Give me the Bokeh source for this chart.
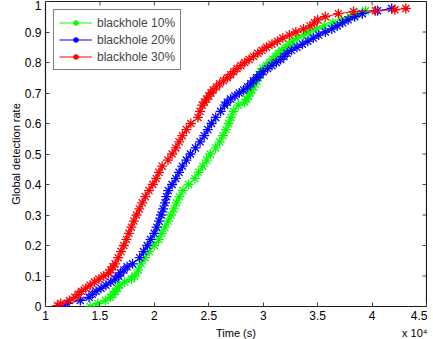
import math
from bokeh.plotting import figure
from bokeh.models import LinearAxis, FixedTicker, Legend, LegendItem, Range1d
from bokeh.embed import file_html
from bokeh.resources import INLINE

# ---- data (time in units of 1e4 s, global detection rate) ----
series_names = ["blackhole 10%", "blackhole 20%", "blackhole 30%"]
series_colors = ["#00ff00", "#0000ff", "#ff0000"]

t_10 = [1.41, 1.48, 1.55, 1.595, 1.62, 1.641, 1.661, 1.681, 1.727, 1.79, 1.82, 1.852, 1.88, 1.915,
        1.953, 1.999, 2.040, 2.068, 2.097, 2.127, 2.153, 2.179, 2.205, 2.230, 2.262, 2.314, 2.372,
        2.406, 2.445, 2.481, 2.514, 2.563, 2.600, 2.630, 2.658, 2.683, 2.704, 2.727,
        2.77, 2.83, 2.85, 2.865, 2.88, 2.895, 2.91, 2.924, 2.94, 2.955, 2.965, 2.975, 2.995,
        3.03, 3.06, 3.09, 3.11, 3.14, 3.17, 3.21, 3.24, 3.27, 3.31, 3.37, 3.42, 3.49, 3.56,
        3.64, 3.72, 3.80, 3.87, 3.94]
r_10 = [0.00, 0.01, 0.02, 0.03, 0.04, 0.05, 0.06, 0.07, 0.08, 0.09, 0.10, 0.12, 0.14, 0.16,
        0.18, 0.20, 0.22, 0.24, 0.26, 0.28, 0.30, 0.32, 0.34, 0.36, 0.38, 0.40, 0.42,
        0.44, 0.46, 0.48, 0.50, 0.52, 0.54, 0.56, 0.58, 0.60, 0.62, 0.64,
        0.66, 0.67, 0.68, 0.69, 0.70, 0.71, 0.72, 0.73, 0.74, 0.75, 0.76, 0.77, 0.78,
        0.79, 0.80, 0.81, 0.82, 0.83, 0.84, 0.85, 0.86, 0.87, 0.88, 0.89, 0.90, 0.91, 0.92,
        0.93, 0.94, 0.95, 0.96, 0.97]

t_20 = [1.16, 1.20, 1.32, 1.40, 1.43, 1.465, 1.51, 1.555, 1.60, 1.64, 1.67, 1.69, 1.72, 1.75,
        1.80, 1.865, 1.90, 1.935, 1.965, 1.999, 2.022, 2.043, 2.062, 2.080, 2.098, 2.111, 2.128,
        2.163, 2.197, 2.227, 2.257, 2.294, 2.332, 2.378, 2.420, 2.458, 2.491, 2.525, 2.564, 2.609,
        2.645, 2.67, 2.70, 2.74, 2.78, 2.82, 2.855, 2.885, 2.91, 2.94, 2.97, 3.00, 3.04,
        3.08, 3.12, 3.16, 3.19, 3.22, 3.26, 3.31, 3.36, 3.41, 3.46, 3.51, 3.57, 3.63,
        3.68, 3.73, 3.78, 3.84, 3.91, 4.05, 4.18]
r_20 = [0.00, 0.01, 0.02, 0.03, 0.04, 0.05, 0.06, 0.07, 0.08, 0.09, 0.10, 0.11, 0.12, 0.13,
        0.14, 0.16, 0.18, 0.20, 0.22, 0.24, 0.26, 0.28, 0.30, 0.32, 0.34, 0.36, 0.38,
        0.40, 0.42, 0.44, 0.46, 0.48, 0.50, 0.52, 0.54, 0.56, 0.58, 0.60, 0.62, 0.64,
        0.66, 0.67, 0.68, 0.69, 0.70, 0.71, 0.72, 0.73, 0.74, 0.75, 0.76, 0.77, 0.78,
        0.79, 0.80, 0.81, 0.82, 0.83, 0.84, 0.85, 0.86, 0.87, 0.88, 0.89, 0.90, 0.91,
        0.92, 0.93, 0.94, 0.95, 0.96, 0.97, 0.977]

t_30 = [1.11, 1.14, 1.22, 1.27, 1.30, 1.33, 1.37, 1.41, 1.45, 1.49, 1.535, 1.58, 1.60, 1.62,
        1.64, 1.668, 1.694, 1.719, 1.744, 1.766, 1.789, 1.812, 1.836, 1.862, 1.889, 1.917, 1.951,
        1.986, 2.017, 2.042, 2.072, 2.125, 2.163, 2.197, 2.227, 2.257, 2.294, 2.335, 2.40, 2.42,
        2.44, 2.46, 2.48, 2.50, 2.52, 2.54, 2.57, 2.60, 2.635, 2.67, 2.70, 2.73, 2.76,
        2.795, 2.83, 2.87, 2.91, 2.95, 2.99, 3.03, 3.08, 3.13, 3.18, 3.24, 3.30, 3.37,
        3.43, 3.47, 3.50, 3.57, 3.69, 3.83, 4.03, 4.21, 4.31]
r_30 = [0.003, 0.01, 0.02, 0.03, 0.04, 0.05, 0.06, 0.07, 0.08, 0.09, 0.10, 0.11, 0.12, 0.13,
        0.14, 0.16, 0.18, 0.20, 0.22, 0.24, 0.26, 0.28, 0.30, 0.32, 0.34, 0.36, 0.38,
        0.40, 0.42, 0.44, 0.46, 0.48, 0.50, 0.52, 0.54, 0.56, 0.58, 0.60, 0.62, 0.64,
        0.66, 0.67, 0.68, 0.69, 0.70, 0.71, 0.72, 0.73, 0.74, 0.75, 0.76, 0.77, 0.78,
        0.79, 0.80, 0.81, 0.82, 0.83, 0.84, 0.85, 0.86, 0.87, 0.88, 0.89, 0.90, 0.91,
        0.92, 0.93, 0.94, 0.95, 0.96, 0.967, 0.970, 0.973, 0.977]

x_ticks = [1, 1.5, 2, 2.5, 3, 3.5, 4, 4.5]
x_tick_labels = ["1", "1.5", "2", "2.5", "3", "3.5", "4", "4.5"]
y_ticks = [0, 0.1, 0.2, 0.3, 0.4, 0.5, 0.6, 0.7, 0.8, 0.9, 1]
y_tick_labels = ["0", "0.1", "0.2", "0.3", "0.4", "0.5", "0.6", "0.7", "0.8", "0.9", "1"]

# bottom caption row: axis title and the MATLAB-style exponent note
x_title = "Time (s)"
x_exponent = "x 10\u2074"

FONT = "Liberation Sans"
TICK_COLOR = "#444444"

p = figure(width=427, height=341, output_backend="svg", toolbar_location=None,
           x_range=Range1d(1, 4.5), y_range=Range1d(0, 1),
           min_border_left=45, min_border_right=1, min_border_top=1, min_border_bottom=28)
p.xgrid.visible = False
p.ygrid.visible = False
p.outline_line_color = "#1a1a1a"
p.outline_line_width = 1.2
p.background_fill_color = "white"
p.border_fill_color = "white"

def style_axis(ax, ticks, labels):
    ax.ticker = FixedTicker(ticks=ticks)
    ax.major_label_overrides = {t: l for t, l in zip(ticks, labels)}
    ax.major_tick_in = 4
    ax.major_tick_out = 0
    ax.major_tick_line_color = TICK_COLOR
    ax.minor_tick_line_color = None
    ax.axis_line_color = None
    ax.major_label_text_font = FONT
    ax.major_label_text_font_size = "12px"
    ax.major_label_text_color = "black"
    ax.axis_label_text_font = FONT
    ax.axis_label_text_font_size = "11px"
    ax.axis_label_text_font_style = "normal"
    ax.axis_label_text_color = "black"

style_axis(p.xaxis[0], x_ticks, x_tick_labels)
style_axis(p.yaxis[0], y_ticks, y_tick_labels)
p.yaxis.axis_label = "Global detection rate"
p.xaxis.major_label_standoff = 4
p.yaxis.major_label_standoff = 4
p.yaxis.axis_label_standoff = 0

# second row under the x axis: "Time (s)" centred, "x 10^4" at the right
mid = (x_ticks[0] + x_ticks[-1]) / 2
cap = LinearAxis(ticker=FixedTicker(ticks=[mid, 4.40]),
                 major_label_overrides={mid: x_title, 4.40: x_exponent},
                 major_tick_line_color=None, minor_tick_line_color=None, axis_line_color=None,
                 major_label_standoff=-2, major_label_text_font=FONT,
                 major_label_text_font_size="11px", major_label_text_color="black")
p.add_layout(cap, "below")

# tick marks on the top and right edges of the box
p.scatter(x_ticks, [1] * len(x_ticks), marker="dash", angle=math.pi / 2, size=8,
          line_color=TICK_COLOR, line_width=1)
p.scatter([4.5] * len(y_ticks), y_ticks, marker="dash", size=8,
          line_color=TICK_COLOR, line_width=1)

items = []
for name, color, xs, ys in zip(series_names, series_colors, (t_10, t_20, t_30), (r_10, r_20, r_30)):
    l = p.line(xs, ys, line_color=color, line_width=1)
    s = p.scatter(xs, ys, marker="asterisk", size=10, line_color=color, line_width=1.3)
    items.append(LegendItem(label=name, renderers=[l, s]))

legend = Legend(items=items, location="top_left", margin=8, padding=5, spacing=2,
                glyph_width=33, glyph_height=15, label_height=15, label_standoff=5,
                label_text_font=FONT, label_text_font_size="12px",
                border_line_color="black", border_line_width=1,
                background_fill_color="white", background_fill_alpha=1)
p.add_layout(legend, "center")

open("out.html", "w").write(file_html(p, INLINE))
